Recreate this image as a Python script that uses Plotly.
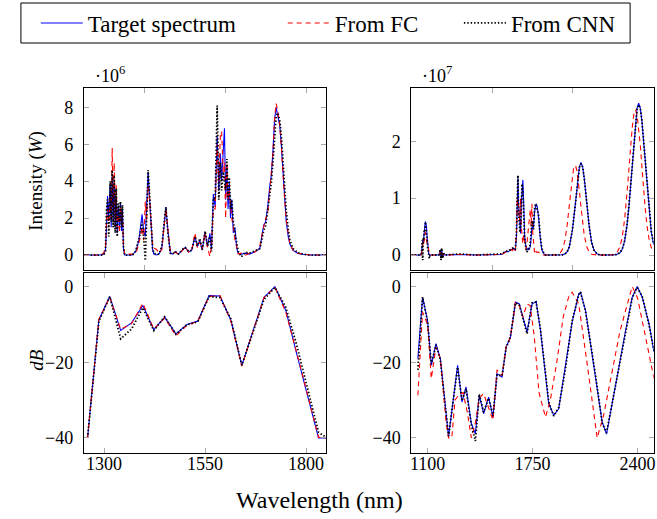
import plotly.graph_objects as go

# ---------------- data: top-left spectrum (x1e6 W) ----------------
wl_tl = [1250, 1290, 1299, 1303.5, 1306, 1308.5, 1311.5, 1315, 1317.5, 1320, 1322.5, 1325, 1327.5,
         1330, 1332.5, 1335, 1338, 1340.5, 1343, 1345.5, 1348, 1351, 1370, 1378, 1382, 1386, 1390,
         1394, 1398, 1402, 1405, 1409, 1413, 1417, 1420, 1423, 1430, 1436, 1443, 1448, 1453, 1458,
         1464, 1470, 1476, 1484, 1490, 1496, 1501, 1509, 1517, 1525, 1531, 1537, 1543, 1550, 1556,
         1562, 1566, 1570.5, 1575, 1578, 1580, 1584, 1588, 1591, 1595, 1598, 1601, 1604, 1607, 1610,
         1613, 1616, 1620, 1624, 1628, 1632, 1640, 1650, 1660, 1670, 1680, 1686, 1690, 1695, 1700,
         1705, 1710, 1714, 1718, 1722, 1726, 1730, 1735, 1739, 1743, 1747, 1751, 1756, 1760, 1768,
         1780, 1792, 1810, 1850]
tl_target = [0, 0, 0.05, 0.3, 1.5, 3.2, 2.0, 3.8, 1.5, 4.4, 1.8, 4.0, 1.5,
             3.2, 1.2, 2.6, 1.5, 2.8, 1.3, 2.5, 0.3, 0.0, 0, 0.2, 0.45, 0.8, 1.5,
             2.2, 1.3, 1.0, 2.5, 4.5, 2.9, 1.3, 0.3, 0.05, 0.0, 0.05, 0.4, 1.5, 2.6, 1.3,
             0.1, 0.05, 0.18, 0.05, 0.2, 0.35, 0.42, 0.17, 0.27, 1.0, 0.45, 0.8, 0.26, 1.26, 0.45,
             1.17, 0.3, 3.3, 2.6, 5.0, 6.5, 3.5, 5.5, 4.0, 5.5, 6.86, 3.0, 4.8, 2.5, 4.0,
             2.0, 3.0, 1.2, 1.5, 0.4, 0.1, 0.05, 0.1, 0.05, 0.15, 0.25, 0.4, 0.95, 1.6, 1.8,
             2.6, 3.7, 4.3, 5.6, 7.3, 8.0, 7.6, 7.0, 5.9, 4.3, 2.9, 1.8, 1.0, 0.6, 0.25,
             0.09, 0.04, 0.0, 0]
tl_fc = [0, 0, 0.1, 0.5, 2.0, 2.5, 1.5, 3.2, 2.0, 5.8, 2.5, 5.0, 1.8,
         3.8, 1.5, 2.2, 1.2, 2.6, 1.8, 2.2, 0.5, 0.05, 0.05, 0.1, 0.3, 0.6, 1.0,
         1.5, 0.8, 2.9, 1.8, 3.8, 3.0, 1.5, 0.6, 0.38, 0.3, 0.1, 0.3, 1.4, 2.5, 1.4,
         0.2, 0.1, 0.15, 0.05, 0.15, 0.3, 0.45, 0.15, 0.25, 1.2, 0.4, 0.7, 0.3, 1.2, 0.4,
         -0.08, 0.5, 2.5, 2.5, 4.5, 6.0, 4.0, 6.5, 6.7, 4.5, 5.0, 2.0, 5.0, 3.0, 3.5,
         2.5, 2.0, 1.5, 0.8, 0.5, 0.05, 0.1, 0.0, 0.1, 0.1, 0.3, 0.5, 1.0, 1.5, 2.0,
         2.2, 3.5, 4.2, 5.5, 7.4, 8.2, 7.8, 7.0, 5.8, 4.2, 3.0, 1.9, 1.0, 0.6, 0.25,
         0.1, 0.05, 0.0, 0]
tl_cnn = [0, 0, 0.0, 0.2, 2.5, 3.0, 1.0, 4.0, 1.8, 4.6, 1.5, 4.3, 1.2,
          3.6, 1.0, 2.8, 1.8, 2.9, 1.5, 2.7, 0.4, 0.0, 0, 0.2, 0.5, 0.9, 1.2,
          1.8, 1.0, -0.3, 2.0, 4.6, 3.1, 1.5, 0.4, 0.1, 0.05, 0.05, 0.5, 1.6, 2.6, 1.2,
          0.1, 0.05, 0.2, 0.05, 0.2, 0.35, 0.4, 0.2, 0.25, 1.0, 0.5, 0.9, 0.3, 1.3, 0.5,
          1.0, 0.2, 3.1, 3.0, 7.0, 8.1, 3.0, 5.0, 3.5, 4.5, 4.0, 3.5, 5.2, 3.0, 4.2,
          2.5, 3.0, 1.8, 1.2, 0.6, 0.2, -0.1, 0.15, 0.1, 0.2, 0.3, 0.35, 0.8, 1.3, 1.6,
          2.4, 3.3, 3.9, 5.0, 6.6, 7.5, 7.7, 7.3, 6.4, 5.0, 3.6, 2.4, 1.4, 0.8, 0.35,
          0.12, 0.05, 0.0, 0]

# ---------------- data: top-right spectrum (x1e7 W) ----------------
wl_tr = [1000, 1060, 1064, 1067, 1070, 1073, 1076, 1080, 1083, 1086.5, 1090, 1093, 1097, 1101,
         1107, 1111, 1115, 1170, 1176, 1179, 1183, 1187, 1193, 1199, 1205, 1300, 1400, 1560,
         1582, 1600, 1612, 1625, 1633, 1643, 1650, 1655, 1659.5, 1663, 1668, 1672, 1676, 1680,
         1685, 1690, 1694.5, 1701, 1709, 1715, 1721, 1730, 1736, 1741, 1746, 1751, 1756, 1762,
         1767, 1772, 1779, 1787, 1797, 1807, 1820, 1830, 1900, 1920, 1935, 1950, 1965, 1978,
         1988, 1996, 2003, 2010, 2017, 2024, 2031, 2040, 2050, 2060, 2070, 2085, 2100, 2115,
         2130, 2150, 2170, 2250, 2270, 2290, 2305, 2320, 2335, 2347, 2357, 2367, 2377, 2387,
         2397, 2407, 2417, 2427, 2437, 2447, 2460, 2472, 2485, 2500]
tr_target = [0, 0, 0.09, 0.2, 0.26, 0.2, 0.35, 0.44, 0.5, 0.59, 0.56, 0.5, 0.32, 0.15,
             0.03, 0.0, 0, 0, 0.05, 0.09, -0.05, 0.1, -0.04, 0.03, 0, 0.01, 0, 0.01,
             0.06, 0.06, 0.09, 0.1, 0.12, 0.08, 0.3, 0.9, 1.35, 0.9, 0.67, 0.45, 0.38, 0.9,
             1.2, 1.32, 0.97, 0.32, 0.15, 0.1, 0.09, 0.1, 0.15, 0.3, 0.5, 0.45, 0.5, 0.75,
             0.88, 0.9, 0.85, 0.67, 0.32, 0.09, 0.02, 0.0, 0, 0, 0.004, 0.017, 0.06, 0.15,
             0.28, 0.43, 0.59, 0.78, 0.99, 1.19, 1.37, 1.55, 1.625, 1.55, 1.35, 0.93, 0.52, 0.23,
             0.086, 0.017, 0, 0.001, 0.008, 0.037, 0.10, 0.25, 0.53, 0.87, 1.22, 1.62, 2.01, 2.35,
             2.58, 2.667, 2.58, 2.35, 2.01, 1.62, 1.11, 0.71, 0.40, 0.18]
tr_fc = [0, 0, 0.05, 0.1, 0.15, 0.25, 0.2, 0.3, 0.35, 0.4, 0.3, 0.25, 0.2, 0.2,
         0.05, 0.02, 0, 0, 0.03, 0.05, 0.0, 0.05, 0.0, 0.02, 0, 0.01, 0, 0.01,
         0.05, 0.08, 0.1, 0.08, 0.1, 0.05, 0.4, 1.0, 0.85, 0.9, 0.6, 0.7, 1.0, 0.5,
         0.3, 0.2, 0.35, 0.2, 0.1, 0.2, 0.4, 0.6, 0.8, 0.5, 0.9, 0.4, 0.2, 0.05,
         0.1, 0.05, 0.05, 0.05, 0.02, 0.0, 0.0, 0.0, 0.004, 0.03, 0.10, 0.25, 0.54, 0.89,
         1.18, 1.37, 1.50, 1.57, 1.56, 1.49, 1.35, 1.12, 0.84, 0.57, 0.35, 0.15, 0.05, 0.013,
         0.002, 0, 0, 0.007, 0.035, 0.135, 0.31, 0.63, 1.10, 1.55, 1.93, 2.24, 2.47, 2.55,
         2.47, 2.24, 1.93, 1.55, 1.17, 0.83, 0.48, 0.27, 0.13, 0.05]
tr_cnn = [0, 0, 0.1, 0.26, -0.09, 0.3, 0.25, 0.45, 0.4, 0.58, 0.5, 0.45, 0.3, 0.12,
          0.02, -0.06, 0, 0, 0.06, 0.1, -0.09, 0.12, -0.06, 0.03, 0, 0.02, 0, 0.02,
          0.06, 0.07, 0.09, 0.12, 0.1, 0.1, 0.35, 1.0, 1.4, 0.8, 0.5, 0.4, 0.5, 1.0,
          1.25, 1.1, 0.8, 0.3, 0.12, 0.05, 0.1, 0.12, 0.2, 0.35, 0.6, 0.55, 0.45, 0.8,
          0.9, 0.88, 0.8, 0.7, 0.35, 0.12, 0.03, 0.0, 0, 0, 0.004, 0.017, 0.06, 0.15,
          0.28, 0.43, 0.59, 0.78, 0.99, 1.19, 1.37, 1.54, 1.61, 1.55, 1.35, 0.93, 0.52, 0.23,
          0.086, 0.017, 0, 0.001, 0.008, 0.037, 0.10, 0.25, 0.53, 0.87, 1.22, 1.62, 2.01, 2.34,
          2.57, 2.64, 2.58, 2.36, 2.03, 1.64, 1.13, 0.73, 0.42, 0.19]

# ---------------- data: bottom-left (dB) ----------------
wl_bl = [1259, 1287, 1314, 1341, 1368, 1396, 1423, 1450, 1478, 1505, 1532, 1560, 1587, 1614,
         1641, 1668, 1696, 1723, 1750, 1777, 1804, 1831, 1852]
bl_target = [-40, -8.8, -2.6, -11.6, -9.6, -5.0, -11.4, -8.1, -12.5, -10, -9.1, -2.4, -2.5, -8.9,
             -20.8, -12, -2.8, 0, -6.3, -17.8, -29.1, -40, -40]
bl_fc = [-40, -8.6, -2.8, -11.3, -9.8, -4.4, -11.2, -8.3, -13.0, -10.2, -9.2, -2.6, -2.4, -9.2,
         -21.0, -12.2, -2.9, -0.2, -6.8, -17.5, -28.8, -39.8, -40]
bl_cnn = [-40, -9.2, -2.6, -13.8, -11.2, -5.6, -11.6, -8.0, -12.6, -10.1, -9.3, -2.6, -2.9, -8.6,
          -20.8, -12.3, -3.4, -0.2, -5.5, -15.5, -27, -38.5, -40]

# ---------------- data: bottom-right (dB) ----------------
wl_br = [1040, 1069, 1100, 1123, 1152, 1179, 1230, 1286, 1313, 1338, 1371, 1396, 1420, 1447,
         1478, 1505, 1530, 1561, 1586, 1613, 1644, 1668, 1716, 1747, 1772, 1799, 1850, 1881,
         1912, 1954, 1995, 2036, 2047, 2078, 2140, 2181, 2208, 2264, 2326, 2367, 2398, 2429,
         2471, 2502]
br_target = [-19, -2.8, -9, -20.8, -15.1, -19, -39.7, -20.8, -30.5, -26.5, -36.2, -38.9, -28.7, -33.6,
             -29.2, -34.5, -23, -23.9, -16, -13.4, -4.1, -4.6, -12, -4.6, -3.9, -11.6, -30.9, -34,
             -32.3, -21.3, -9.4, -1.9, -1.5, -6.3, -23.9, -35.8, -39, -25.7, -11.6, -2.8, 0, -2.8,
             -9.8, -17.3]
br_cnn = [-22, -2.8, -9.3, -20.5, -15.4, -19.3, -39.5, -21.3, -30.2, -27, -36.6, -40.8, -28.4, -33.2,
          -29.5, -34.2, -23.3, -23.6, -16.3, -13.2, -4.3, -4.8, -12.5, -4.3, -4.1, -11.3, -30.5, -34.2,
          -32, -21.6, -9.1, -2.1, -1.4, -6.6, -23.5, -36.1, -38.6, -26, -11.3, -3, -0.2, -2.6,
          -10.1, -17.0]
wl_br_fc = [1040, 1069, 1100, 1123, 1152, 1179, 1215, 1230, 1250, 1270, 1295, 1320, 1345, 1371,
            1396, 1420, 1447, 1478, 1505, 1530, 1561, 1586, 1613, 1644, 1668, 1690, 1716, 1735,
            1760, 1790, 1830, 1860, 1900, 1940, 1975, 1995, 2036, 2090, 2150, 2190, 2243, 2290,
            2326, 2367, 2400, 2429, 2470, 2502]
br_fc = [-28.7, -6.8, -10, -24.3, -16, -19, -36, -40, -40, -30, -28.5, -28, -33, -40,
         -36, -29.5, -28.3, -32, -35.3, -22, -23.5, -16, -13.4, -4.1, -5, -8, -4.6, -5,
         -13, -28, -34.5, -30, -20, -8, -2.5, -1.5, -4.6, -21, -40, -34, -22, -12,
         -6.3, 0, -3, -9, -17, -24.3]

# ---------------- axes / ticks ----------------
tl_xticks = [1400, 1600, 1800]
tr_xticks = [1500, 2000]
bl_xticks = [1300, 1550, 1800]
br_xticks = [1100, 1750, 2400]
tl_yticks = [0, 2, 4, 6, 8]
tr_yticks = [0, 1, 2]
db_yticks = [0, -20, -40]

series_names = ["Target spectrum", "From FC", "From CNN"]

FONT = "Liberation Serif"
W, H = 657, 519


def px_x(a, b):
    return [a / W, b / W]


def px_y(top, bottom):
    return [1 - bottom / H, 1 - top / H]


BLUE = dict(color="#0000ff", width=1.1)
RED = dict(color="#ff0000", width=1.1, dash="5px,4px")
BLACK = dict(color="#000000", width=1.8, dash="1.4px,2px")
legend_ids = ["legend", "legend2", "legend3"]

fig = go.Figure()


def add_panel(xa, ya, xs, ys_list, show):
    styles = [BLUE, RED, BLACK]
    for (x, y), name, st, lg in zip(zip(xs, ys_list), series_names, styles, legend_ids):
        fig.add_trace(go.Scatter(x=x, y=y, mode="lines", line=st, name=name,
                                 legendgroup=name, showlegend=show, legend=lg,
                                 xaxis=xa, yaxis=ya, hoverinfo="skip"))


add_panel("x", "y", [wl_tl] * 3, [tl_target, tl_fc, tl_cnn], True)
add_panel("x2", "y2", [wl_tr] * 3, [tr_target, tr_fc, tr_cnn], False)
add_panel("x3", "y3", [wl_bl] * 3, [bl_target, bl_fc, bl_cnn], False)
add_panel("x4", "y4", [wl_br, wl_br_fc, wl_br], [br_target, br_fc, br_cnn], False)

common = dict(showline=True, linecolor="black", linewidth=1.1, mirror="ticks",
              ticks="inside", ticklen=5, tickwidth=1, tickcolor="#a8a8a8",
              showgrid=False, zeroline=False, ticklabeloverflow="allow",
              tickfont=dict(family=FONT, size=18, color="black"))

LX = px_x(83.3, 326.7)
RX = px_x(412.3, 655.7)
TY = px_y(88.3, 269.8)
BY = px_y(272.6, 452.7)


def leg(text_left):
    return dict(orientation="h", x=(text_left - 57) / W, y=1 - 23 / H,
                xanchor="left", yanchor="middle", borderwidth=0,
                bgcolor="rgba(0,0,0,0)", itemwidth=42,
                font=dict(family=FONT, size=23, color="black"))


fig.update_layout(
    width=W, height=H,
    margin=dict(l=0, r=0, t=0, b=0),
    paper_bgcolor="white", plot_bgcolor="white",
    font=dict(family=FONT, color="black"),
    xaxis=dict(common, domain=LX, anchor="y", range=[1250, 1850], tickvals=tl_xticks,
               showticklabels=False),
    yaxis=dict(common, domain=TY, anchor="x", range=[-0.8, 9.03], tickvals=tl_yticks,
               ticklabelstandoff=6),
    xaxis2=dict(common, domain=RX, anchor="y2", range=[1000, 2500], tickvals=tr_xticks,
                showticklabels=False),
    yaxis2=dict(common, domain=TY, anchor="x2", range=[-0.26, 2.93], tickvals=tr_yticks,
                ticklabelstandoff=6),
    xaxis3=dict(common, domain=LX, anchor="y3", range=[1250, 1850], tickvals=bl_xticks,
                ticklabelstandoff=-5),
    yaxis3=dict(common, domain=BY, anchor="x3", range=[-43.9, 3.7], tickvals=db_yticks,
                ticklabelstandoff=6),
    xaxis4=dict(common, domain=RX, anchor="y4", range=[1000, 2500], tickvals=br_xticks,
                ticklabelstandoff=-5),
    yaxis4=dict(common, domain=BY, anchor="x4", range=[-43.9, 3.7], tickvals=db_yticks,
                ticklabelstandoff=6),
    legend=leg(92),
    legend2=leg(340),
    legend3=leg(517),
    showlegend=True,
)

# frame drawn around the three legend entries
fig.add_shape(type="rect", xref="paper", yref="paper",
              x0=20 / W, x1=632 / W, y0=1 - 43 / H, y1=1 - 3 / H,
              line=dict(color="black", width=1), fillcolor="rgba(0,0,0,0)")

ann = [
    dict(text="Intensity (<i>W</i>)", x=35 / W, y=1 - 181 / H, textangle=-90, font_size=19),
    dict(text="<i>dB</i>", x=35 / W, y=1 - 360 / H, textangle=-90, font_size=19),
    dict(text="·10<sup>6</sup>", x=92 / W, y=1 - 75 / H, xanchor="left", font_size=18),
    dict(text="·10<sup>7</sup>", x=421 / W, y=1 - 75 / H, xanchor="left", font_size=18),
    dict(text="Wavelength (nm)", x=320 / W, y=1 - 500 / H, font_size=24),
]
for a in ann:
    a.setdefault("xanchor", "center")
    fig.add_annotation(xref="paper", yref="paper", showarrow=False, yanchor="middle",
                       font=dict(family=FONT, size=a.pop("font_size"), color="black"), **a)

fig.write_html("out.html", config={"displayModeBar": False},
               post_script="document.body.style.margin='0px';")
